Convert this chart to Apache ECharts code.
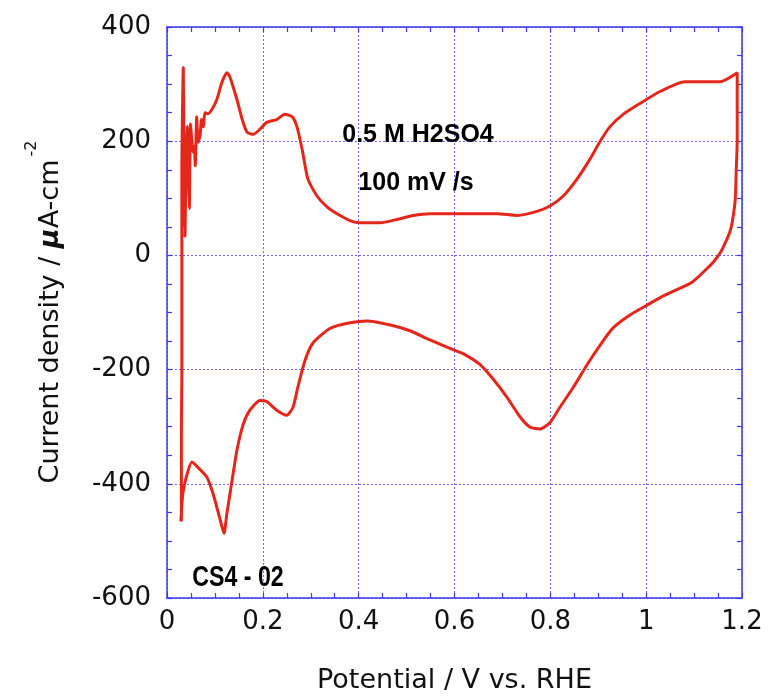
<!DOCTYPE html>
<html>
<head>
<meta charset="utf-8">
<script src="https://cdn.jsdelivr.net/npm/echarts@6/dist/echarts.min.js"></script>
<style>html,body{margin:0;padding:0;background:#fff;}#c{width:781px;height:699px;}</style>
</head>
<body>
<div id="c"></div>
<script>
// Potential (V vs RHE) and current density (uA/cm2), in sweep order
const potential = [
  0.030, 0.030, 0.031, 0.031,
  0.034, 0.036, 0.0376, 0.040, 0.042, 0.044, 0.0466, 0.049, 0.052, 0.054, 0.057, 0.059, 0.062, 0.065, 0.069, 0.072, 0.076, 0.079,
  0.085, 0.094, 0.104, 0.115, 0.125, 0.131, 0.146, 0.157, 0.167, 0.180, 0.194, 0.208, 0.229, 0.246, 0.261, 0.271, 0.282, 0.294,
  0.313, 0.334, 0.355, 0.382, 0.403, 0.445, 0.480, 0.514, 0.549, 0.618, 0.689, 0.731, 0.772, 0.800, 0.827, 0.856, 0.883, 0.904,
  0.925, 0.952, 0.987, 1.029, 1.081, 1.154, 1.190,
  1.190, 1.188, 1.186, 1.180, 1.175, 1.165, 1.155, 1.140, 1.127, 1.106, 1.092, 1.036, 1.002, 0.967, 0.931, 0.904, 0.877, 0.848,
  0.820, 0.800, 0.779, 0.758, 0.737, 0.710, 0.681, 0.653, 0.618, 0.597, 0.549, 0.507, 0.466, 0.418, 0.382, 0.340, 0.305, 0.288,
  0.273, 0.263, 0.250, 0.229, 0.208, 0.194, 0.173, 0.159, 0.146, 0.136, 0.125, 0.119, 0.111, 0.096, 0.083, 0.063, 0.052, 0.042,
  0.033, 0.029
];
const current = [
  -466, -300, -214, 146,
  329, 100, 33, 180, 226, 150, 82, 230, 200, 181, 191, 157, 243, 198, 210, 238, 225, 250,
  248, 256, 273, 304, 320, 313, 273, 238, 216, 212, 221, 233, 238, 247, 243, 226, 186, 134,
  104, 85, 73, 61, 57, 57, 63, 70, 73, 73, 73, 70, 77, 87, 104, 134, 169, 200,
  226, 247, 266, 287, 304, 304, 320,
  200, 150, 99, 60, 42, 22, 5, -12, -23, -40, -49, -71, -87, -104, -127, -157, -191, -231,
  -266, -292, -304, -301, -283, -249, -217, -191, -172, -165, -148, -132, -122, -115, -118, -128, -153, -184,
  -231, -266, -280, -271, -256, -254, -271, -296, -341, -393, -452, -487, -463, -417, -388, -370, -362, -383,
  -417, -466
];
const xTicks = [0, 0.2, 0.4, 0.6, 0.8, 1, 1.2];
const yTicks = [-600, -400, -200, 0, 200, 400];
const annotations = ['0.5 M H2SO4', '100 mV /s', 'CS4 - 02'];

const AX = '#3a3af0';
const GRID = '#6a6aff';
const chart = echarts.init(document.getElementById('c'), null, {renderer: 'canvas'});
const pts = potential.map((v, i) => [v, current[i]]);
const tickFont = {fontFamily: 'DejaVu Sans', fontSize: 26, color: '#111'};
const baseX = {
  type: 'value', min: xTicks[0], max: xTicks[xTicks.length - 1], interval: 0.2,
  axisLine: {show: true, onZero: false, lineStyle: {color: AX, width: 1.5}},
  axisTick: {show: true, inside: true, length: 5, lineStyle: {color: AX, width: 1.2}},
  minorTick: {show: true, splitNumber: 4, length: 5, lineStyle: {color: AX, width: 1.2}},
};
const baseY = {
  type: 'value', min: yTicks[0], max: yTicks[yTicks.length - 1], interval: 200,
  axisLine: {show: true, onZero: false, lineStyle: {color: AX, width: 1.5}},
  axisTick: {show: true, inside: true, length: 5, lineStyle: {color: AX, width: 1.2}},
  minorTick: {show: true, splitNumber: 4, length: 5, lineStyle: {color: AX, width: 1.2}},
};
chart.setOption({
  animation: false,
  backgroundColor: '#fff',
  grid: {left: 167, right: 39, top: 27, bottom: 92, containLabel: false},
  xAxis: [
    Object.assign({}, baseX, {
      position: 'bottom',
      axisLabel: Object.assign({margin: 11, formatter: v => String(+v.toFixed(1))}, tickFont),
      splitLine: {show: true, lineStyle: {color: GRID, type: [2, 2], width: 1}},
      name: 'Potential / V vs. RHE', nameLocation: 'middle', nameGap: 69,
      nameTextStyle: {fontFamily: 'DejaVu Sans', fontSize: 27, color: '#111'}
    }),
    Object.assign({}, baseX, {position: 'top', axisLabel: {show: false}, splitLine: {show: false}})
  ],
  yAxis: [
    Object.assign({}, baseY, {
      position: 'left',
      axisLabel: Object.assign({margin: 16}, tickFont),
      splitLine: {show: true, lineStyle: {color: GRID, type: [2, 2], width: 1}}
    }),
    Object.assign({}, baseY, {position: 'right', axisLabel: {show: false}, splitLine: {show: false}})
  ],
  series: [{
    type: 'line', data: pts, showSymbol: false, symbol: 'none', smooth: 0.2,
    lineStyle: {color: '#e5261b', width: 3}, z: 5, clip: false
  }],
  graphic: [
    {type: 'text', x: 418, y: 135, style: {text: annotations[0], font: 'bold 25px "Liberation Sans", Arial, sans-serif', fill: '#000', align: 'center', verticalAlign: 'middle'}, z: 10},
    {type: 'text', x: 416, y: 183, style: {text: annotations[1], font: 'bold 25px "Liberation Sans", Arial, sans-serif', fill: '#000', align: 'center', verticalAlign: 'middle'}, z: 10},
    {type: 'text', x: 238, y: 578, scaleX: 0.8, style: {text: annotations[2], font: 'bold 29px "Liberation Sans", Arial, sans-serif', fill: '#000', align: 'center', verticalAlign: 'middle'}, z: 10},
    {type: 'text', x: 44, y: 312, rotation: Math.PI / 2, z: 10,
      style: {
        text: '{a|Current density / }{b|\u03bc}{a|A-cm}{s|-2}',
        align: 'center', verticalAlign: 'middle',
        rich: {
          a: {fontFamily: 'DejaVu Sans', fontSize: 27, fill: '#111', verticalAlign: 'bottom', lineHeight: 40},
          b: {fontFamily: 'DejaVu Sans', fontSize: 27, fontWeight: 'bold', fontStyle: 'italic', fill: '#111', verticalAlign: 'bottom', lineHeight: 40},
          s: {fontFamily: 'DejaVu Sans', fontSize: 16, fill: '#111', verticalAlign: 'top', lineHeight: 40, padding: [0, 0, 0, 3]}
        }
      }
    }
  ]
});
</script>
</body>
</html>
